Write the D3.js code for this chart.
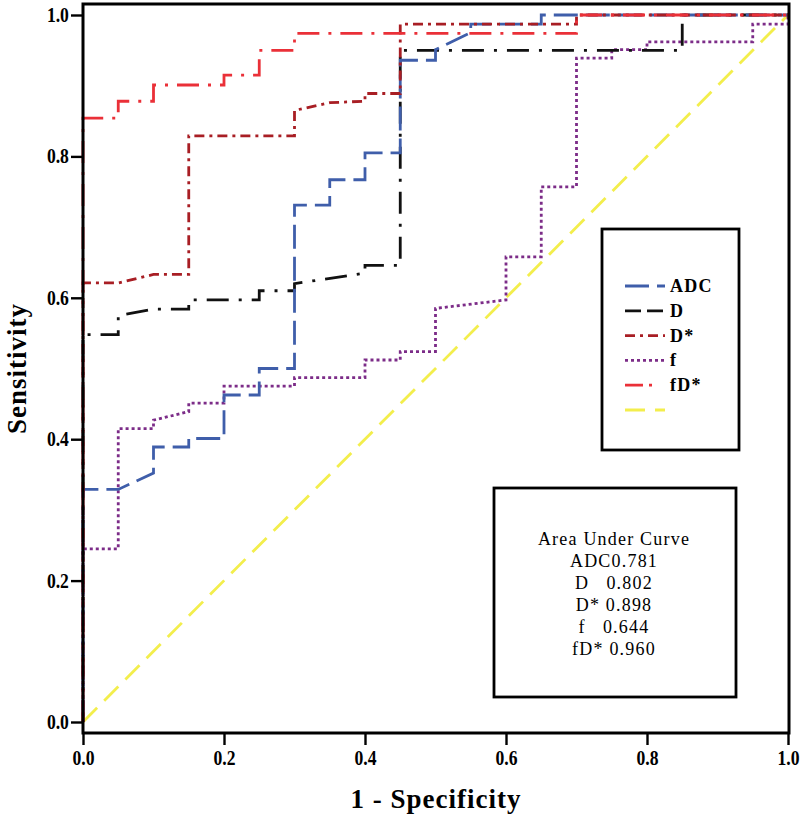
<!DOCTYPE html>
<html><head><meta charset="utf-8">
<script src="https://cdn.jsdelivr.net/npm/d3@7"></script>
<style>body{margin:0;background:#fff} svg{display:block}</style>
</head><body><svg id="chart" width="800" height="818"></svg>
<script>
// ---------- data ----------
const seriesNames = ["ADC", "D", "D*", "f", "fD*"];
const aucValues = ["0.781", "0.802", "0.898", "0.644", "0.960"];
const aucGap = ["", "   ", " ", "   ", " "];
const tickValues = [0, 0.2, 0.4, 0.6, 0.8, 1.0];

const adcFpr = [0, 0, 0.05, 0.1, 0.1, 0.15, 0.15, 0.2, 0.2, 0.25, 0.25, 0.3, 0.3, 0.35, 0.35, 0.4, 0.4, 0.45, 0.45, 0.5, 0.5, 0.55, 0.55, 0.65, 0.65, 1];
const adcTpr = [0, 0.329, 0.329, 0.352, 0.389, 0.389, 0.401, 0.401, 0.4625, 0.4625, 0.5, 0.5, 0.731, 0.731, 0.767, 0.767, 0.805, 0.805, 0.936, 0.936, 0.951, 0.975, 0.987, 0.987, 1, 1];

const dFpr = [0, 0, 0.05, 0.05, 0.1, 0.15, 0.15, 0.25, 0.25, 0.3, 0.3, 0.4, 0.4, 0.45, 0.45, 0.85, 0.85, 1];
const dTpr = [0, 0.548, 0.548, 0.575, 0.584, 0.584, 0.597, 0.597, 0.61, 0.61, 0.62, 0.635, 0.646, 0.646, 0.95, 0.95, 1, 1];

const dsFpr = [0, 0, 0.05, 0.1, 0.15, 0.15, 0.3, 0.3, 0.35, 0.4, 0.4, 0.45, 0.45, 0.7, 0.7, 1];
const dsTpr = [0, 0.621, 0.621, 0.633, 0.633, 0.829, 0.829, 0.865, 0.876, 0.878, 0.889, 0.889, 0.987, 0.987, 1, 1];

const fFpr = [0, 0, 0.05, 0.05, 0.1, 0.1, 0.15, 0.15, 0.2, 0.2, 0.3, 0.3, 0.4, 0.4, 0.45, 0.45, 0.5, 0.5, 0.6, 0.6, 0.65, 0.65, 0.7, 0.7, 0.75, 0.75, 0.8, 0.8, 0.95, 0.95, 1, 1];
const fTpr = [0, 0.245, 0.245, 0.415, 0.415, 0.427, 0.439, 0.451, 0.451, 0.475, 0.475, 0.487, 0.487, 0.512, 0.512, 0.524, 0.524, 0.585, 0.597, 0.658, 0.658, 0.757, 0.757, 0.939, 0.939, 0.951, 0.951, 0.962, 0.962, 0.987, 0.987, 1];

const fdsFpr = [0, 0, 0.05, 0.05, 0.1, 0.1, 0.2, 0.2, 0.25, 0.25, 0.3, 0.3, 0.7, 0.7, 1];
const fdsTpr = [0, 0.854, 0.854, 0.878, 0.878, 0.901, 0.901, 0.915, 0.915, 0.95, 0.95, 0.974, 0.974, 1, 1];

const refFpr = [0, 1];
const refTpr = [0, 1];

// ---------- styles ----------
const styles = {
  "ADC": {color: "#3f5eaa", dash: "24,8"},
  "D":   {color: "#111111", dash: "22,10,3,10"},
  "D*":  {color: "#a81e24", dash: "10,5,3,5"},
  "f":   {color: "#7c2c88", dash: "3,3"},
  "fD*": {color: "#ea3038", dash: "22,9,3,9"},
  "ref": {color: "#f3ee4c", dash: "20,10"}
};
const seriesData = {
  "ADC": [adcFpr, adcTpr], "D": [dFpr, dTpr], "D*": [dsFpr, dsTpr],
  "f": [fFpr, fTpr], "fD*": [fdsFpr, fdsTpr], "ref": [refFpr, refTpr]
};

const svg = d3.select("#chart");
const frame = {left: 83, right: 789, top: 4, bottom: 733};
const x = d3.scaleLinear().domain([0, 1]).range([83, 788]);
const y = d3.scaleLinear().domain([0, 1]).range([722, 15]);

const serif = "'Liberation Serif', 'Times New Roman', serif";

// lines
const line = d3.line().x(d => x(d[0])).y(d => y(d[1]));
["ref", "f", "D", "ADC", "D*", "fD*"].forEach(k => {
  const [fx, fy] = seriesData[k];
  const pts = fx.map((v, i) => [v, fy[i]]);
  svg.append("path").datum(pts)
    .attr("d", line)
    .attr("fill", "none")
    .attr("stroke", styles[k].color)
    .attr("stroke-width", 2.8)
    .attr("stroke-dasharray", styles[k].dash);
});

// frame
svg.append("rect")
  .attr("x", frame.left).attr("y", frame.top)
  .attr("width", frame.right - frame.left).attr("height", frame.bottom - frame.top)
  .attr("fill", "none").attr("stroke", "#000").attr("stroke-width", 3);

// axes
const yAxis = svg.append("g").attr("transform", `translate(${frame.left},0)`)
  .call(d3.axisLeft(y).tickValues(tickValues).tickFormat(d3.format(".1f")).tickSize(12).tickSizeOuter(0).tickPadding(4));
const xAxis = svg.append("g").attr("transform", `translate(0,${frame.bottom})`)
  .call(d3.axisBottom(x).tickValues(tickValues).tickFormat(d3.format(".1f")).tickSize(12).tickSizeOuter(0).tickPadding(6));
[yAxis, xAxis].forEach(g => {
  g.select(".domain").remove();
  g.selectAll(".tick line").attr("stroke", "#000").attr("stroke-width", 2.4);
  g.selectAll(".tick text").attr("font-family", serif).attr("font-weight", "bold")
    .attr("font-size", 20).attr("fill", "#000")
    .attr("transform", "scale(0.88,1)");
});

// axis titles
svg.append("text")
  .attr("x", (frame.left + frame.right) / 2).attr("y", 808)
  .attr("text-anchor", "middle")
  .attr("font-family", serif).attr("font-weight", "bold").attr("font-size", 27)
  .attr("letter-spacing", 1)
  .text("1 - Specificity");
svg.append("text")
  .attr("transform", `translate(26,${(15 + 722) / 2}) rotate(-90)`)
  .attr("text-anchor", "middle")
  .attr("font-family", serif).attr("font-weight", "bold").attr("font-size", 27)
  .attr("letter-spacing", 1)
  .text("Sensitivity");

// legend box
svg.append("rect").attr("x", 602).attr("y", 229).attr("width", 137).attr("height", 221)
  .attr("fill", "#fff").attr("stroke", "#000").attr("stroke-width", 2.8);
const legendKeys = ["ADC", "D", "D*", "f", "fD*", "ref"];
legendKeys.forEach((k, i) => {
  const cy = 286 + i * 24.8;
  svg.append("line").attr("x1", 625).attr("x2", 665).attr("y1", cy).attr("y2", cy)
    .attr("stroke", styles[k].color).attr("stroke-width", 2.8)
    .attr("stroke-dasharray", k === "D" ? "16,6" : k === "fD*" ? "18,6,3,20" : styles[k].dash);
  if (k !== "ref") {
    svg.append("text").attr("x", 670).attr("y", cy + 6)
      .attr("font-family", serif).attr("font-weight", "bold").attr("font-size", 18)
      .attr("letter-spacing", 1.2)
      .text(k);
  }
});

// AUC box
svg.append("rect").attr("x", 494).attr("y", 488).attr("width", 242).attr("height", 209)
  .attr("fill", "#fff").attr("stroke", "#000").attr("stroke-width", 2.8);
const aucLines = ["Area Under Curve"].concat(seriesNames.map((n, i) => n + aucGap[i] + aucValues[i]));
aucLines.forEach((t, i) => {
  svg.append("text").attr("x", 614).attr("y", 545 + i * 22)
    .attr("text-anchor", "middle")
    .attr("font-family", serif).attr("font-size", 18)
    .attr("letter-spacing", 1.2)
    .style("white-space", "pre")
    .text(t);
});
</script></body></html>
